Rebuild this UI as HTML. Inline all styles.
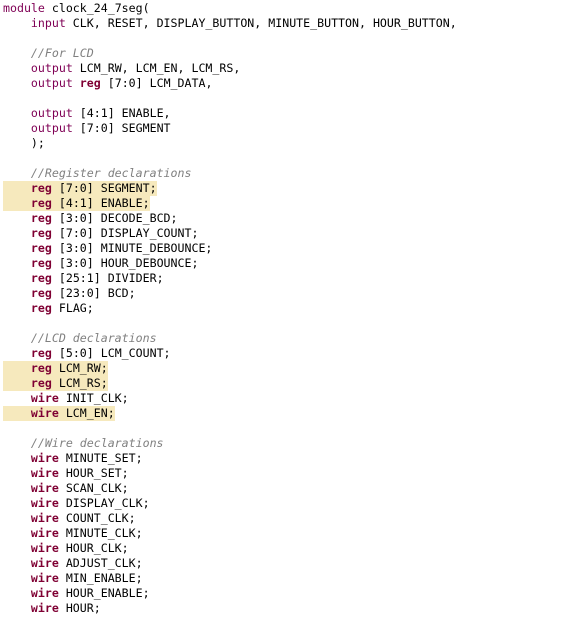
<!DOCTYPE html>
<html><head><meta charset="utf-8"><style>
html,body{margin:0;padding:0;background:#fff;width:569px;height:623px;overflow:hidden}
pre{margin:0;padding:1px 0 0 3px;font-family:"DejaVu Sans Mono","Liberation Mono",monospace;font-size:11.6px;line-height:15px;color:#000}
.l{display:block;height:15px;white-space:pre}
.k{color:#7f0055}
.r{color:#7f0033;font-weight:bold}
.c{color:#808080;font-style:italic}
.h{background:#f6e9bd;display:inline-block}
</style></head><body><pre>
<span class="l"><span class="k">module</span> clock_24_7seg(</span><span class="l">    <span class="k">input</span> CLK, RESET, DISPLAY_BUTTON, MINUTE_BUTTON, HOUR_BUTTON,</span><span class="l"></span><span class="l">    <span class="c">//For LCD</span></span><span class="l">    <span class="k">output</span> LCM_RW, LCM_EN, LCM_RS,</span><span class="l">    <span class="k">output</span> <span class="r">reg</span> [7:0] LCM_DATA,</span><span class="l"></span><span class="l">    <span class="k">output</span> [4:1] ENABLE,</span><span class="l">    <span class="k">output</span> [7:0] SEGMENT</span><span class="l">    );</span><span class="l"></span><span class="l">    <span class="c">//Register declarations</span></span><span class="l"><span class="h">    <span class="r">reg</span> [7:0] SEGMENT;</span></span><span class="l"><span class="h">    <span class="r">reg</span> [4:1] ENABLE;</span></span><span class="l">    <span class="r">reg</span> [3:0] DECODE_BCD;</span><span class="l">    <span class="r">reg</span> [7:0] DISPLAY_COUNT;</span><span class="l">    <span class="r">reg</span> [3:0] MINUTE_DEBOUNCE;</span><span class="l">    <span class="r">reg</span> [3:0] HOUR_DEBOUNCE;</span><span class="l">    <span class="r">reg</span> [25:1] DIVIDER;</span><span class="l">    <span class="r">reg</span> [23:0] BCD;</span><span class="l">    <span class="r">reg</span> FLAG;</span><span class="l"></span><span class="l">    <span class="c">//LCD declarations</span></span><span class="l">    <span class="r">reg</span> [5:0] LCM_COUNT;</span><span class="l"><span class="h">    <span class="r">reg</span> LCM_RW;</span></span><span class="l"><span class="h">    <span class="r">reg</span> LCM_RS;</span></span><span class="l">    <span class="r">wire</span> INIT_CLK;</span><span class="l"><span class="h">    <span class="r">wire</span> LCM_EN;</span></span><span class="l"></span><span class="l">    <span class="c">//Wire declarations</span></span><span class="l">    <span class="r">wire</span> MINUTE_SET;</span><span class="l">    <span class="r">wire</span> HOUR_SET;</span><span class="l">    <span class="r">wire</span> SCAN_CLK;</span><span class="l">    <span class="r">wire</span> DISPLAY_CLK;</span><span class="l">    <span class="r">wire</span> COUNT_CLK;</span><span class="l">    <span class="r">wire</span> MINUTE_CLK;</span><span class="l">    <span class="r">wire</span> HOUR_CLK;</span><span class="l">    <span class="r">wire</span> ADJUST_CLK;</span><span class="l">    <span class="r">wire</span> MIN_ENABLE;</span><span class="l">    <span class="r">wire</span> HOUR_ENABLE;</span><span class="l">    <span class="r">wire</span> HOUR;</span></pre></body></html>
